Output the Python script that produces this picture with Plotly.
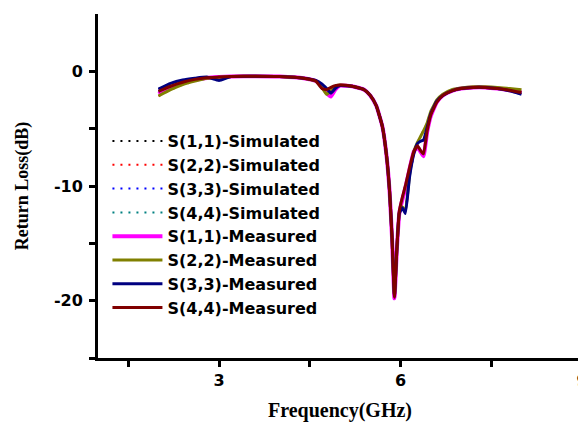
import plotly.graph_objects as go

freq = [2.0, 2.2, 2.4, 2.6, 2.8, 3.0, 3.2, 3.6, 4.0, 4.4, 4.6, 4.7, 4.78, 4.85, 4.92,
        5.0, 5.2, 5.4, 5.5, 5.6, 5.7, 5.77, 5.82, 5.86, 5.9, 5.94, 5.98, 6.03, 6.08,
        6.15, 6.22, 6.28, 6.33, 6.38, 6.44, 6.5, 6.6, 6.7, 6.85, 7.0, 7.2, 7.4, 7.6,
        7.8, 8.0]

s11_meas = [-1.95, -1.4, -1.0, -0.75, -0.58, -0.5, -0.45, -0.42, -0.45, -0.6, -0.85, -1.3, -1.9, -2.2, -1.6,
            -1.25, -1.3, -1.6, -2.1, -3.0, -4.8, -7.4, -10.5, -14.5, -19.8, -15.5, -12.4, -11.2, -10.2,
            -8.5, -7.0, -6.6, -7.0, -7.4, -5.3, -3.9, -2.7, -2.1, -1.7, -1.5, -1.4, -1.4, -1.5,
            -1.65, -1.85]
s22_meas = [-2.15, -1.6, -1.15, -0.85, -0.6, -0.52, -0.45, -0.42, -0.45, -0.6, -0.85, -1.4, -2.0, -1.7, -1.3,
            -1.2, -1.3, -1.6, -2.1, -3.0, -4.8, -7.4, -10.5, -14.5, -19.6, -15.5, -12.3, -11.8, -12.2,
            -9.0, -7.0, -6.2, -5.7, -5.2, -4.5, -3.5, -2.5, -2.0, -1.6, -1.45, -1.35, -1.35, -1.4,
            -1.5, -1.6]
s33_meas = [-1.55, -1.05, -0.75, -0.6, -0.5, -0.8, -0.45, -0.42, -0.45, -0.6, -0.8, -1.1, -1.5, -1.9, -1.5,
            -1.25, -1.3, -1.6, -2.1, -3.0, -4.8, -7.4, -10.5, -14.5, -19.6, -15.5, -12.4, -11.9, -12.4,
            -9.2, -7.2, -6.3, -6.1, -6.0, -4.9, -3.7, -2.6, -2.1, -1.7, -1.5, -1.4, -1.4, -1.5,
            -1.7, -2.0]
s44_meas = [-1.75, -1.3, -0.95, -0.7, -0.55, -0.5, -0.45, -0.42, -0.45, -0.6, -0.85, -1.5, -1.6, -1.4, -1.25,
            -1.2, -1.3, -1.6, -2.1, -3.0, -4.8, -7.4, -10.5, -14.5, -19.7, -15.5, -12.2, -11.0, -10.0,
            -8.4, -7.0, -6.5, -6.9, -7.2, -5.2, -3.8, -2.7, -2.1, -1.7, -1.5, -1.4, -1.4, -1.5,
            -1.65, -1.85]

# simulated curves lie beneath the measured ones
s11_sim = list(s44_meas)
s22_sim = list(s22_meas)
s33_sim = list(s33_meas)
s44_sim = list(s44_meas)

names_sim = ["S(1,1)-Simulated", "S(2,2)-Simulated", "S(3,3)-Simulated", "S(4,4)-Simulated"]
names_meas = ["S(1,1)-Measured", "S(2,2)-Measured", "S(3,3)-Measured", "S(4,4)-Measured"]

x_tickvals = [3, 6, 9]
y_tickvals = [0, -10, -20]

fig = go.Figure()

sim_colors = ["#000000", "#FF0000", "#0000FF", "#008080"]
for name, vals, col in zip(names_sim, [s11_sim, s22_sim, s33_sim, s44_sim], sim_colors):
    fig.add_trace(go.Scatter(x=freq, y=vals, name=name, mode="lines",
                             line=dict(color=col, width=2, dash="2px,6px")))

meas_colors = ["#FF00FF", "#808000", "#000080", "#800000"]
meas_widths = [4, 3, 3, 3]
for name, vals, col, w in zip(names_meas, [s11_meas, s22_meas, s33_meas, s44_meas], meas_colors, meas_widths):
    fig.add_trace(go.Scatter(x=freq, y=vals, name=name, mode="lines",
                             line=dict(color=col, width=w, shape="spline", smoothing=0.4)))

tickfont = dict(family="DejaVu Sans", size=16, color="black", weight="bold")
xtitlefont = dict(family="Liberation Serif, Times New Roman", size=20, color="black", weight="bold")
ytitlefont = dict(family="Liberation Serif, Times New Roman", size=18, color="black", weight="bold")

# the page body has an 8px margin, so the figure is 8px smaller on each axis
fig.update_layout(
    width=578, height=414,
    margin=dict(l=90, r=4, t=6, b=64),
    paper_bgcolor="white", plot_bgcolor="white",
    showlegend=True,
    legend=dict(x=0.0195, y=0.68, xanchor="left", yanchor="top",
                bgcolor="rgba(0,0,0,0)", borderwidth=0,
                font=dict(family="DejaVu Sans", size=16, color="black", weight="bold"),
                itemwidth=50, tracegroupgap=0),
    xaxis=dict(range=[1, 9], tickvals=x_tickvals, ticktext=[str(v) for v in x_tickvals],
               automargin=False, ticklabeloverflow="allow",
               showline=True, linecolor="black", linewidth=3, showgrid=False, zeroline=False,
               ticks="outside", ticklen=6, tickwidth=3, tickcolor="black",
               minor=dict(tickvals=[1.5, 4.5, 7.5], ticks="outside", ticklen=6, tickwidth=3, tickcolor="black"),
               tickfont=tickfont,
               title=dict(text="Frequency(GHz)", font=xtitlefont, standoff=15)),
    yaxis=dict(range=[-25, 5], tickvals=y_tickvals, ticktext=[str(v) for v in y_tickvals],
               automargin=False, ticklabelstandoff=3,
               showline=True, linecolor="black", linewidth=3, showgrid=False, zeroline=False,
               ticks="outside", ticklen=6, tickwidth=3, tickcolor="black",
               minor=dict(tickvals=[-5, -15, -25], ticks="outside", ticklen=6, tickwidth=3, tickcolor="black"),
               tickfont=tickfont,
               title=dict(text="Return Loss(dB)", font=ytitlefont, standoff=21)),
)

fig.write_html("out.html")
